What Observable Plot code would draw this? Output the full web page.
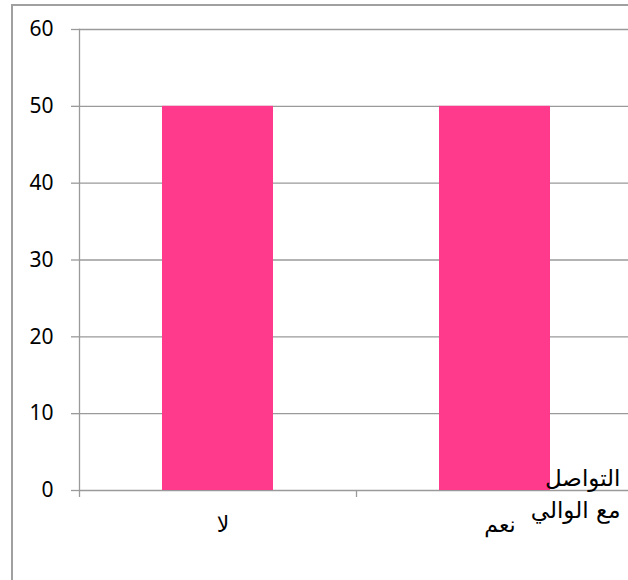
<!DOCTYPE html>
<html>
<head>
<meta charset="utf-8">
<script src="https://cdn.jsdelivr.net/npm/d3@7"></script>
<script src="https://cdn.jsdelivr.net/npm/@observablehq/plot@0.6"></script>
<style>
  html, body { margin: 0; padding: 0; background: #fff; overflow: hidden; }
  #wrap { position: relative; width: 628px; height: 580px; overflow: hidden; }
  #border { position: absolute; left: 11px; top: 4px; width: 700px; height: 700px;
            border: 2px solid #a0a0a0; box-sizing: border-box; }
  #chart { position: absolute; left: 0; top: 0; }
</style>
</head>
<body>
<div id="wrap"><div id="border"></div><div id="chart"></div></div>
<script>
// Answers to "التواصل مع الوالي"
const categories = ["لا", "نعم"];
const values = [50, 50];
const yTicks = [0, 10, 20, 30, 40, 50, 60];
const axisTitle = ["التواصل", "مع الوالي"];

const data = categories.map((c, i) => ({category: c, value: values[i]}));

const xRange = [79, 633];
const step = (xRange[1] - xRange[0]) / categories.length;
const gray = "#9a9a9a";

const chart = Plot.plot({
  width: 628,
  height: 580,
  marginTop: 29,
  marginBottom: 90,
  marginLeft: 79,
  marginRight: 0,
  style: {fontFamily: "'Noto Sans', 'DejaVu Sans', sans-serif", color: "#000", background: "transparent"},
  x: {domain: categories, range: xRange, paddingInner: 0.6, paddingOuter: 0.3, label: null},
  y: {domain: [0, 60], label: null},
  marks: [
    Plot.gridY(yTicks, {stroke: gray, strokeOpacity: 1, strokeWidth: 1.3}),
    Plot.frame({anchor: "left", stroke: gray, strokeWidth: 1.3}),
    Plot.ruleX(categories, {x: d => d, dx: -step / 2, y1: 0, y2: 0, insetBottom: -7, stroke: gray, strokeWidth: 1.3}),
    Plot.barY(data, {x: "category", y: "value", fill: "#ff3a8c"}),
    Plot.axisY({ticks: yTicks, tickSize: 8, tickPadding: 18, fontSize: 21, stroke: gray, strokeWidth: 1.3, label: null}),
    Plot.axisX({tickSize: 0, tickPadding: 26, fontSize: 22, dx: 5, label: null, fontFamily: "'DejaVu Sans', sans-serif"}),
    Plot.text([axisTitle.join("\n")], {
      frameAnchor: "bottom-right", textAnchor: "end", lineAnchor: "middle",
      lineHeight: 1.4, fontSize: 23, dx: -8, dy: 1, fill: "#000",
      fontFamily: "'DejaVu Sans', sans-serif"
    })
  ]
});

document.getElementById("chart").appendChild(chart);
</script>
</body>
</html>
